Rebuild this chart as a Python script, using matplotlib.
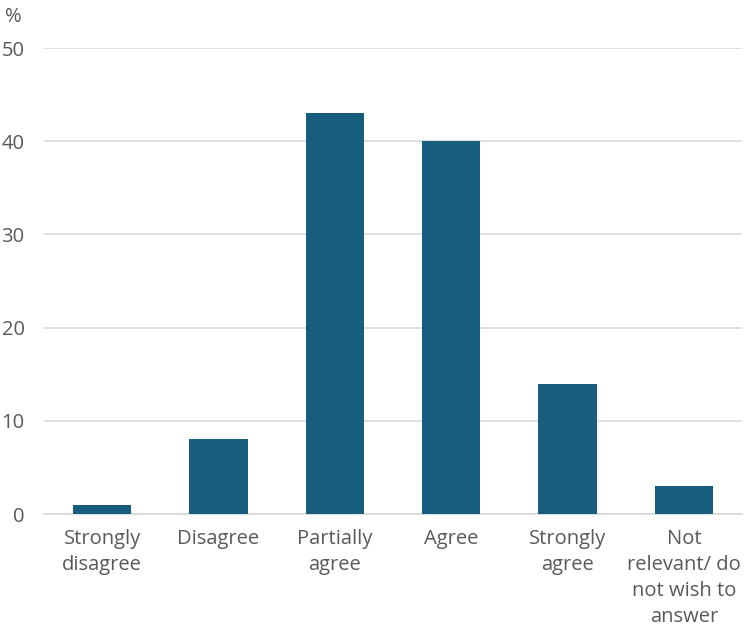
import matplotlib.pyplot as plt

# Survey responses (%)
categories = ["Strongly\ndisagree", "Disagree", "Partially\nagree", "Agree",
              "Strongly\nagree", "Not\nrelevant/ do\nnot wish to\nanswer"]
values = [1, 8, 43, 40, 14, 3]
yticks = [0, 10, 20, 30, 40, 50]

BAR_COLOR = "#175E7E"
TEXT_COLOR = "#595959"
GRID_COLOR = "#D9D9D9"

plt.rcParams["font.family"] = ["Open Sans", "DejaVu Sans"]

fig = plt.figure(figsize=(7.44, 6.28), dpi=100)
ax = fig.add_axes([44 / 744, 114 / 628, 698 / 744, 466 / 628])

x = range(len(categories))
ax.bar(x, values, width=0.5, color=BAR_COLOR, zorder=3)

ax.set_xlim(-0.5, len(categories) - 0.5)
ax.set_ylim(0, 50)
ax.set_yticks(yticks)
ax.set_xticks(list(x))
ax.set_xticklabels(categories, linespacing=1.4)

ax.grid(axis="y", color=GRID_COLOR, linewidth=1.2, zorder=0)
for side in ["top", "right", "left"]:
    ax.spines[side].set_visible(False)
ax.spines["bottom"].set_color(GRID_COLOR)
ax.spines["bottom"].set_linewidth(1.2)

ax.tick_params(axis="both", length=0, labelsize=14.5, labelcolor=TEXT_COLOR)
ax.tick_params(axis="y", pad=14)
ax.tick_params(axis="x", pad=11)
for lbl in ax.get_xticklabels():
    lbl.set_verticalalignment("top")

fig.text(5 / 744, 1 - 17 / 628, "%", fontsize=14.5, color=TEXT_COLOR,
         ha="left", va="center")

fig.savefig("out.png", dpi=100)
